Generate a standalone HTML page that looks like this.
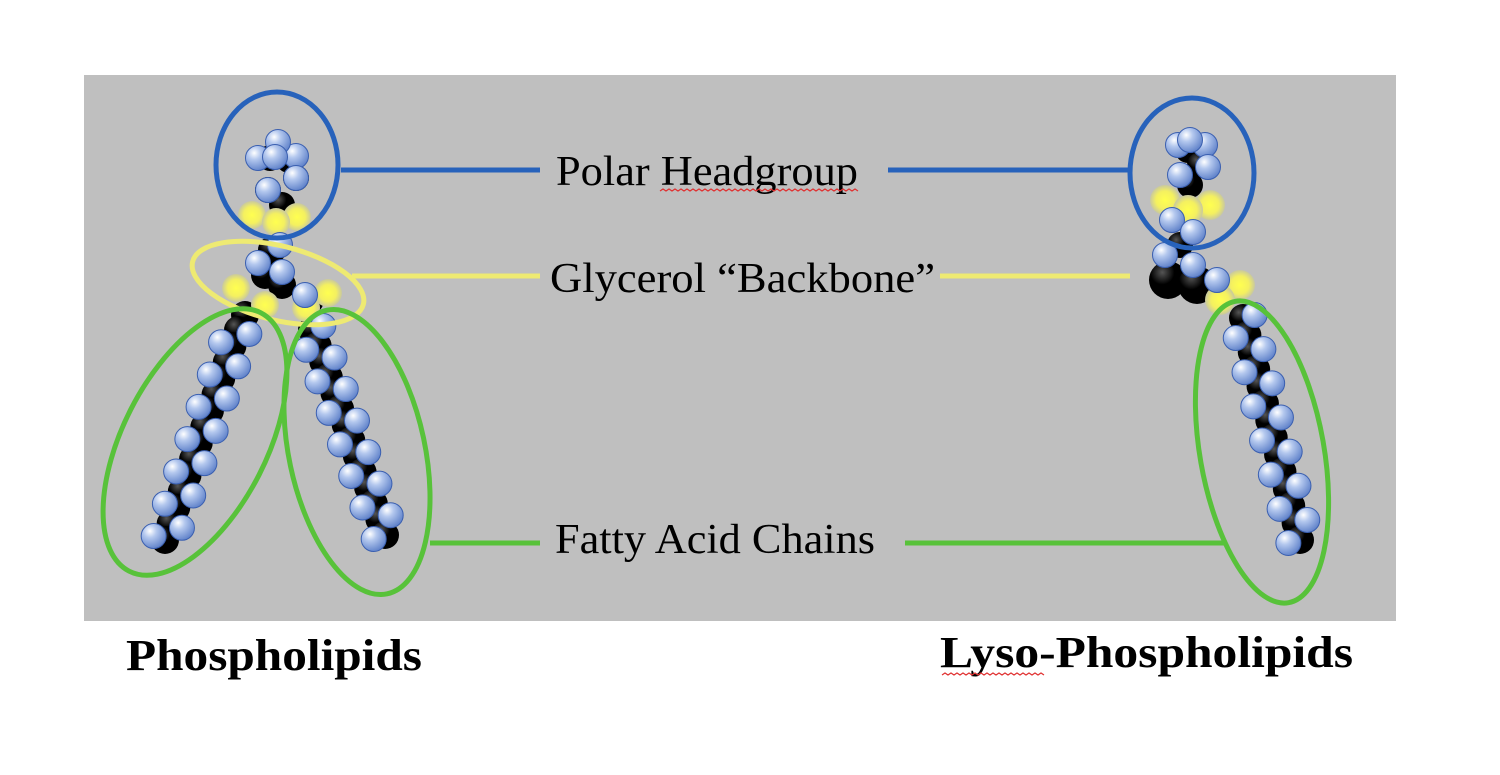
<!DOCTYPE html>
<html><head><meta charset="utf-8"><style>
html,body{margin:0;padding:0;background:#fff;}
svg{display:block;}
text{font-family:"Liberation Serif",serif;}
</style></head><body>
<svg id="s" width="1500" height="775" viewBox="0 0 1500 775" xmlns="http://www.w3.org/2000/svg">
<defs>
<radialGradient id="gb" cx="0.35" cy="0.3" r="0.75">
<stop offset="0" stop-color="#ffffff"/><stop offset="0.35" stop-color="#b4c8ee"/><stop offset="1" stop-color="#5c7fc8"/>
</radialGradient>
<radialGradient id="gy" cx="0.5" cy="0.5" r="0.5">
<stop offset="0" stop-color="#ffff50"/><stop offset="0.6" stop-color="#f4f060"/><stop offset="1" stop-color="#c8c8a0"/>
</radialGradient>
<radialGradient id="gk" cx="0.35" cy="0.3" r="0.8">
<stop offset="0" stop-color="#555"/><stop offset="0.4" stop-color="#000"/><stop offset="1" stop-color="#000"/>
</radialGradient>
</defs>
<rect x="84" y="75" width="1312" height="546" fill="#bfbfbf"/>
<g id="mol"></g>
<g stroke-width="5" fill="none">
<line x1="341" y1="170" x2="540" y2="170" stroke="#2762bb"/>
<line x1="888" y1="170" x2="1131" y2="170" stroke="#2762bb"/>
<line x1="352" y1="276" x2="540" y2="276" stroke="#eeea72"/>
<line x1="940" y1="276" x2="1130" y2="276" stroke="#eeea72"/>
<line x1="430" y1="543" x2="540" y2="543" stroke="#58c23a"/>
<line x1="905" y1="543" x2="1226" y2="543" stroke="#58c23a"/>
</g>
<g fill="none" stroke-width="5">
<ellipse cx="277" cy="165" rx="61" ry="73" stroke="#2762bb"/>
<ellipse cx="278" cy="283" rx="88" ry="37" transform="rotate(14 278 283)" stroke="#eeea72"/>
<ellipse cx="195" cy="442" rx="72" ry="145" transform="rotate(27 195 442)" stroke="#58c23a"/>
<ellipse cx="357" cy="452" rx="68" ry="145" transform="rotate(-12 357 452)" stroke="#58c23a"/>
<ellipse cx="1192" cy="173" rx="62" ry="75" stroke="#2762bb"/>
<ellipse cx="1262" cy="452" rx="62" ry="153" transform="rotate(-10 1262 452)" stroke="#58c23a"/>
</g>
<text x="556" y="185" font-size="42" textLength="302" lengthAdjust="spacingAndGlyphs">Polar Headgroup</text>
<path d="M660 191 l3 -2 l3 2 l3 -2 l3 2 l3 -2 l3 2 l3 -2 l3 2 l3 -2 l3 2 l3 -2 l3 2 l3 -2 l3 2 l3 -2 l3 2 l3 -2 l3 2 l3 -2 l3 2 l3 -2 l3 2 l3 -2 l3 2 l3 -2 l3 2 l3 -2 l3 2 l3 -2 l3 2 l3 -2 l3 2 l3 -2 l3 2 l3 -2 l3 2 l3 -2 l3 2 l3 -2 l3 2 l3 -2 l3 2 l3 -2 l3 2 l3 -2 l3 2 l3 -2 l3 2 l3 -2 l3 2 l3 -2 l3 2 l3 -2 l3 2 l3 -2 l3 2 l3 -2 l3 2 l3 -2 l3 2 l3 -2 l3 2 l3 -2 l3 2 l3 -2 l3 2" stroke="#e03030" stroke-width="1.2" fill="none"/>
<text x="550" y="292" font-size="42" textLength="385" lengthAdjust="spacingAndGlyphs">Glycerol “Backbone”</text>
<text x="555" y="553" font-size="42" textLength="320" lengthAdjust="spacingAndGlyphs">Fatty Acid Chains</text>
<text x="126" y="670" font-size="44" font-weight="bold" textLength="296" lengthAdjust="spacingAndGlyphs">Phospholipids</text>
<text x="940" y="667" font-size="44" font-weight="bold" textLength="413" lengthAdjust="spacingAndGlyphs">Lyso-Phospholipids</text>
<path d="M942 675 l3 -2 l3 2 l3 -2 l3 2 l3 -2 l3 2 l3 -2 l3 2 l3 -2 l3 2 l3 -2 l3 2 l3 -2 l3 2 l3 -2 l3 2 l3 -2 l3 2 l3 -2 l3 2 l3 -2 l3 2 l3 -2 l3 2 l3 -2 l3 2 l3 -2 l3 2 l3 -2 l3 2 l3 -2 l3 2 l3 -2 l3 2" stroke="#e03030" stroke-width="1.2" fill="none"/>
</svg>
<script>
(function(){
var g=document.getElementById('mol'),NS='http://www.w3.org/2000/svg',blk=[],blu=[],yel=[];
function c(arr,x,y,r){arr.push([x,y,r]);}
function chain(x0,y0,x1,y1,n){
 var dx=x1-x0,dy=y1-y0,L=Math.sqrt(dx*dx+dy*dy),px=-dy/L,py=dx/L;
 for(var i=0;i<n;i++){var t=i/(n-1),x=x0+dx*t,y=y0+dy*t;
  c(blk,x,y,14);
  var s=(i%2?1:-1)*12;
  c(blu,x+px*s,y+py*s,12.5);
 }
}
[[270,158],[289,160],[278,152],[296,178],[268,190],[282,205]].forEach(function(p){c(blk,p[0],p[1],13);});
[[258,158],[296,156],[278,142],[275,157],[296,178],[268,190]].forEach(function(p){c(blu,p[0],p[1],12.5);});
[[252,215],[297,217],[276,222]].forEach(function(p){c(yel,p[0],p[1],14);});
[[272,250],[265,275],[282,285],[310,300],[245,315]].forEach(function(p){c(blk,p[0],p[1],14);});
[[280,245],[258,263],[282,272],[305,295]].forEach(function(p){c(blu,p[0],p[1],12.5);});
[[236,288],[328,293],[306,308],[265,305]].forEach(function(p){c(yel,p[0],p[1],14);});
chain(238,330,165,540,14);
chain(312,330,385,535,14);
[[1188,150],[1200,165],[1190,185],[1185,215],[1180,245],[1168,280],[1197,285],[1232,290]].forEach(function(p){c(blk,p[0],p[1],p[0]<1200&&p[1]>270?19:13);});
[[1178,145],[1205,145],[1190,140],[1208,167],[1180,175],[1172,220],[1193,232],[1165,255],[1193,265],[1217,280]].forEach(function(p){c(blu,p[0],p[1],12.5);});
[[1165,200],[1210,205],[1188,210],[1240,285],[1220,300]].forEach(function(p){c(yel,p[0],p[1],15);});
chain(1243,318,1300,540,14);
function draw(arr,fill,stroke){arr.forEach(function(a){var e=document.createElementNS(NS,'circle');e.setAttribute('cx',a[0]);e.setAttribute('cy',a[1]);e.setAttribute('r',a[2]);e.setAttribute('fill',fill);if(stroke){e.setAttribute('stroke',stroke);e.setAttribute('stroke-width','1');}g.appendChild(e);});}
draw(blk,'url(#gk)');draw(yel,'url(#gy)');draw(blu,'url(#gb)','#3a5fb0');
})();
</script>
</body></html>
